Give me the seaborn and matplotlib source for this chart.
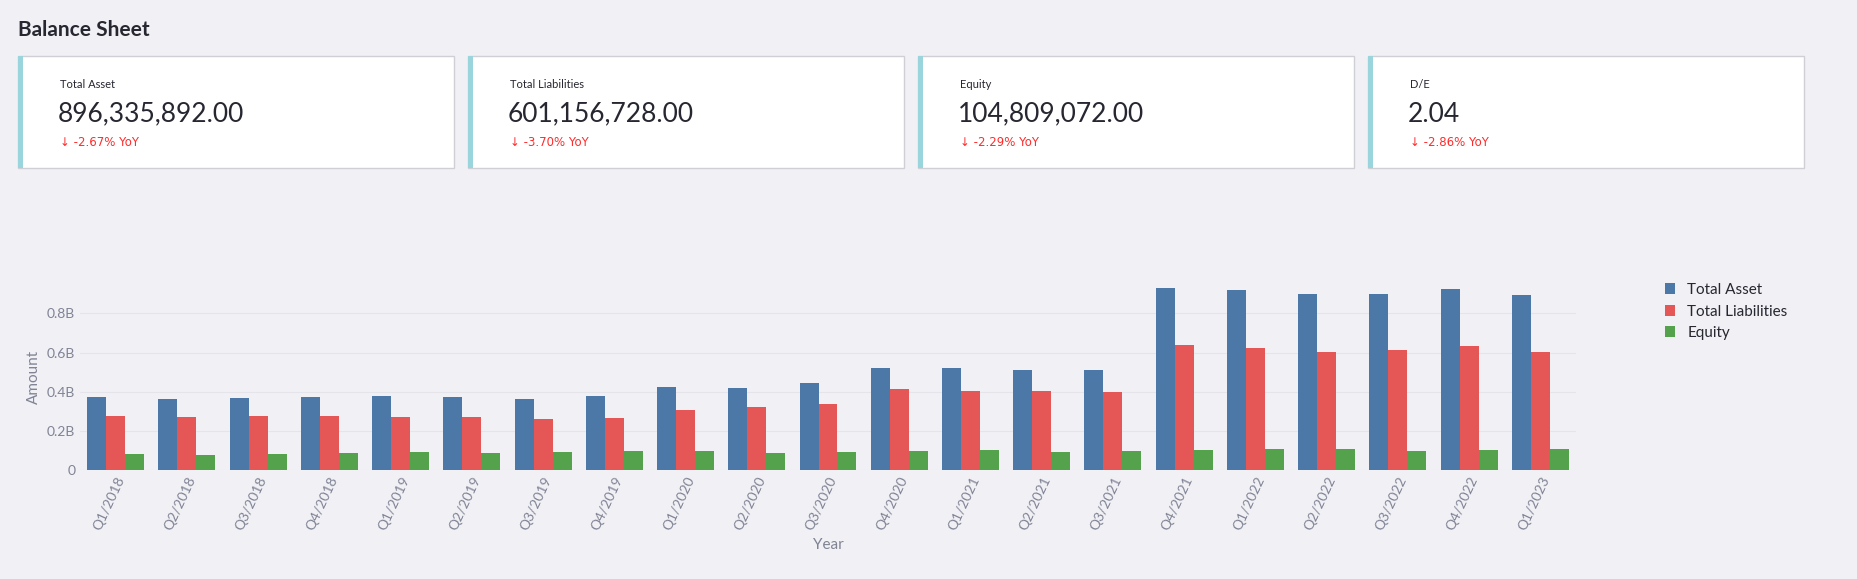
import pandas as pd
import seaborn as sns
import matplotlib.pyplot as plt
from matplotlib.patches import FancyBboxPatch, Rectangle

quarters = ['Q1/2018', 'Q2/2018', 'Q3/2018', 'Q4/2018', 'Q1/2019', 'Q2/2019', 'Q3/2019', 'Q4/2019',
            'Q1/2020', 'Q2/2020', 'Q3/2020', 'Q4/2020', 'Q1/2021', 'Q2/2021', 'Q3/2021', 'Q4/2021',
            'Q1/2022', 'Q2/2022', 'Q3/2022', 'Q4/2022', 'Q1/2023']
total_asset = [0.371, 0.362, 0.369, 0.374, 0.377, 0.371, 0.365, 0.377, 0.424, 0.421, 0.443, 0.523,
               0.519, 0.513, 0.513, 0.932, 0.921, 0.899, 0.899, 0.923, 0.896]
total_liab = [0.277, 0.272, 0.275, 0.275, 0.270, 0.270, 0.261, 0.267, 0.308, 0.320, 0.336, 0.412,
              0.403, 0.403, 0.400, 0.639, 0.625, 0.604, 0.611, 0.634, 0.601]
equity = [0.081, 0.076, 0.080, 0.087, 0.092, 0.085, 0.090, 0.095, 0.099, 0.088, 0.094, 0.097,
          0.100, 0.094, 0.095, 0.104, 0.107, 0.106, 0.099, 0.100, 0.105]

card_titles = ['Total Asset', 'Total Liabilities', 'Equity', 'D/E']
card_values = ['896,335,892.00', '601,156,728.00', '104,809,072.00', '2.04']
card_deltas = ['-2.67% YoY', '-3.70% YoY', '-2.29% YoY', '-2.86% YoY']

df = pd.DataFrame({'Year': quarters, 'Total Asset': total_asset,
                   'Total Liabilities': total_liab, 'Equity': equity})
long = df.melt(id_vars='Year', var_name='Series', value_name='Amount')
long['Amount'] = long['Amount'] * 1e9

sns.set_style("white")
plt.rcParams['font.family'] = ['Lato', 'DejaVu Sans']
bg = '#f0f0f5'
W, H = 1858, 579
fig = plt.figure(figsize=(W / 100, H / 100), dpi=100, facecolor=bg)

def fx(px):
    return px / W

def fy(py):
    return 1 - py / H

fig.text(fx(18), fy(30), 'Balance Sheet', fontsize=15, fontweight='bold', color='#262730', va='center')

for i in range(4):
    x0 = 18 + i * 450
    w, h, y0 = 436, 112, 56
    fig.patches.append(Rectangle((fx(x0), fy(y0 + h)), fx(w), h / H, transform=fig.transFigure,
                                 facecolor='white', edgecolor='#cfd0d6', linewidth=1))
    fig.patches.append(Rectangle((fx(x0), fy(y0 + h)), fx(5), h / H, transform=fig.transFigure,
                                 facecolor='#9ad4dd', edgecolor='none'))
    fig.text(fx(x0 + 42), fy(y0 + 29), card_titles[i], fontsize=8, color='#262730', va='center')
    fig.text(fx(x0 + 40), fy(y0 + 58), card_values[i], fontsize=19, color='#262730', va='center')
    fig.text(fx(x0 + 42), fy(y0 + 86), '\u2193 ' + card_deltas[i], fontsize=8.5, color='#ff2b2b',
             va='center', family=['DejaVu Sans'])

ax = fig.add_axes([fx(80), fy(470), fx(1496), (470 - 284) / H])
ax.set_facecolor(bg)
palette = ['#4c78a8', '#e45756', '#54a24b']
sns.barplot(data=long, x='Year', y='Amount', hue='Series', palette=palette, ax=ax,
            width=0.8, saturation=1, edgecolor='none')
ax.set_ylim(0, 0.95e9)
ax.set_yticks([0, 0.2e9, 0.4e9, 0.6e9, 0.8e9])
ax.set_yticklabels(['0', '0.2B', '0.4B', '0.6B', '0.8B'])
ax.grid(axis='y', color='#e4e4ea', linewidth=0.8)
ax.set_axisbelow(True)
ax.tick_params(axis='both', colors='#7f8394', labelsize=10, length=0)
plt.setp(ax.get_xticklabels(), rotation=-65 + 130, ha='right', rotation_mode='anchor')
ax.set_xlabel('Year', color='#7f8394', fontsize=11)
ax.set_ylabel('Amount', color='#7f8394', fontsize=11)
sns.despine(ax=ax, left=True, bottom=True)
ax.legend(loc='upper left', bbox_to_anchor=(1.05, 1.08), frameon=False, fontsize=11,
          handlelength=0.7, handleheight=0.7, labelcolor='#262730', title=None)

fig.savefig('out.png', dpi=100, facecolor=bg)
